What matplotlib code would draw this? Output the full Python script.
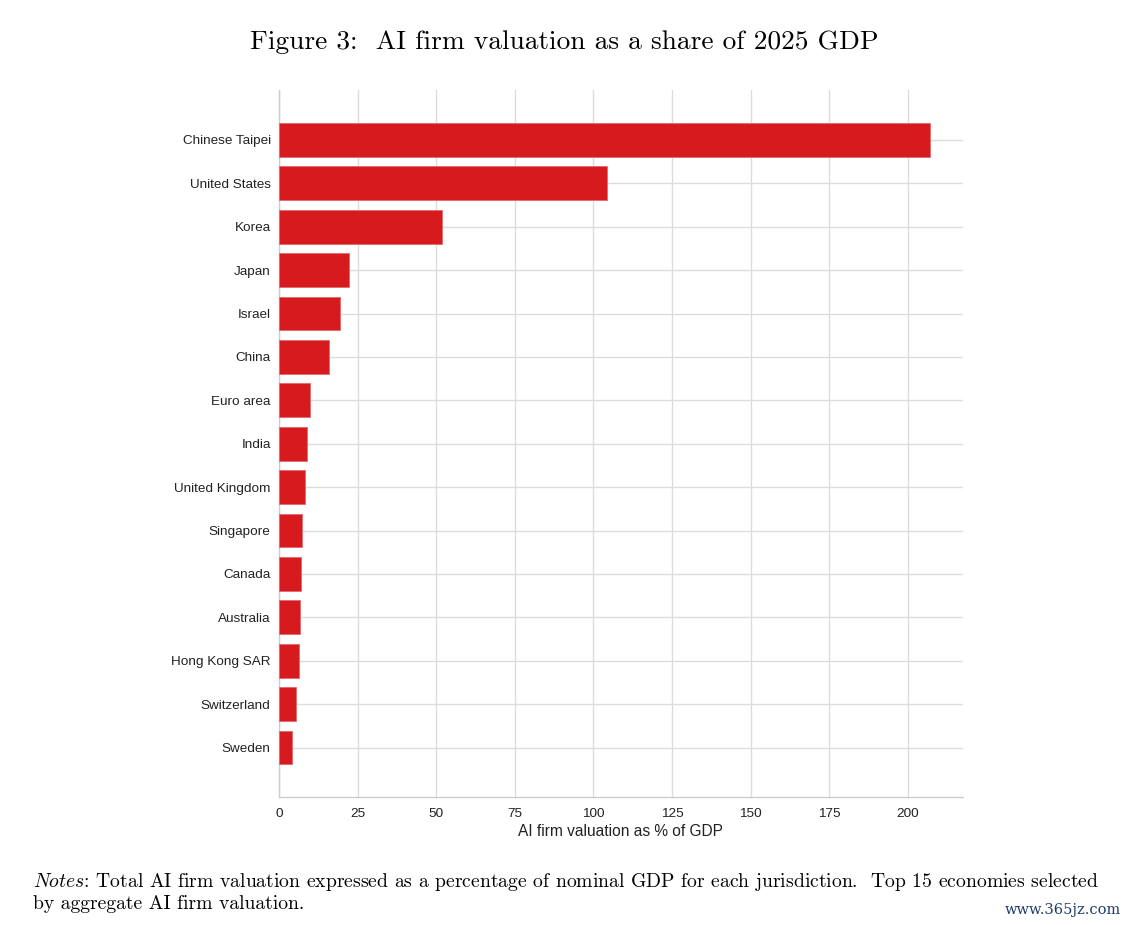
import matplotlib
matplotlib.use("Agg")
import matplotlib.pyplot as plt
import numpy as np

# data (AI firm valuation, % of GDP)
countries = [
    "Chinese Taipei", "United States", "Korea", "Japan", "Israel", "China",
    "Euro area", "India", "United Kingdom", "Singapore", "Canada",
    "Australia", "Hong Kong SAR", "Switzerland", "Sweden",
]
valuation_pct = [207.1, 104.2, 51.7, 22.2, 19.5, 15.9, 10.0, 8.9, 8.2,
                 7.3, 7.0, 6.8, 6.4, 5.4, 4.0]
x_ticks = [0, 25, 50, 75, 100, 125, 150, 175, 200]

BAR_RED = "#d71a1e"
GRID = "#dcdcdc"

plt.rcParams["mathtext.fontset"] = "cm"

fig = plt.figure(figsize=(11.28, 9.25), dpi=100)
ax = fig.add_axes([279 / 1128, 1 - 797 / 925, (963 - 279) / 1128, (797 - 90) / 925])

y = np.arange(len(countries))
ax.barh(y, valuation_pct, height=0.78, color=BAR_RED,
        edgecolor="#e46a6d", linewidth=0.6, zorder=3)

ax.set_ylim(len(countries) - 1 + 1.14, -1.15)
ax.set_xlim(0, 217.5)
ax.set_yticks(y)
ax.set_yticklabels(countries, family="Liberation Sans", fontsize=9.7, color="#222222")
ax.set_xticks(x_ticks)
ax.set_xticklabels([str(t) for t in x_ticks], family="Liberation Sans",
                   fontsize=9.7, color="#222222")
ax.tick_params(axis="x", length=0, pad=8)
ax.tick_params(axis="y", length=0, pad=6)

ax.grid(True, color=GRID, linewidth=1.0, zorder=0)
ax.set_axisbelow(True)
for side in ("top", "right"):
    ax.spines[side].set_visible(False)
for side in ("left", "bottom"):
    ax.spines[side].set_color("#cccccc")
    ax.spines[side].set_linewidth(1.0)

ax.set_xlabel("AI firm valuation as % of GDP", family="Liberation Sans",
              fontsize=11.2, color="#222222", labelpad=3)

fig.text(0.5, 1 - 42 / 925, "Figure 3:  AI firm valuation as a share of 2025 GDP",
         family="cmr10", fontsize=19.7, ha="center", va="center")

# notes, one text per line so the second line stays short
notes_1 = (r"$\mathit{Notes}$: Total AI firm valuation expressed as a percentage of nominal "
           "GDP for each jurisdiction.  Top 15 economies selected")
notes_2 = "by aggregate AI firm valuation."
fig.text(33 / 1128, 1 - 882 / 925, notes_1, family="cmr10", fontsize=14.15,
         ha="left", va="center")
fig.text(33 / 1128, 1 - 904 / 925, notes_2, family="cmr10", fontsize=14.15,
         ha="left", va="center")

fig.text(1121 / 1128, 1 - 910 / 925, "www.365jz.com", family="DejaVu Serif",
         fontsize=10.5, color="#1f3d6b", ha="right", va="center")

fig.savefig("out.png", dpi=100)
